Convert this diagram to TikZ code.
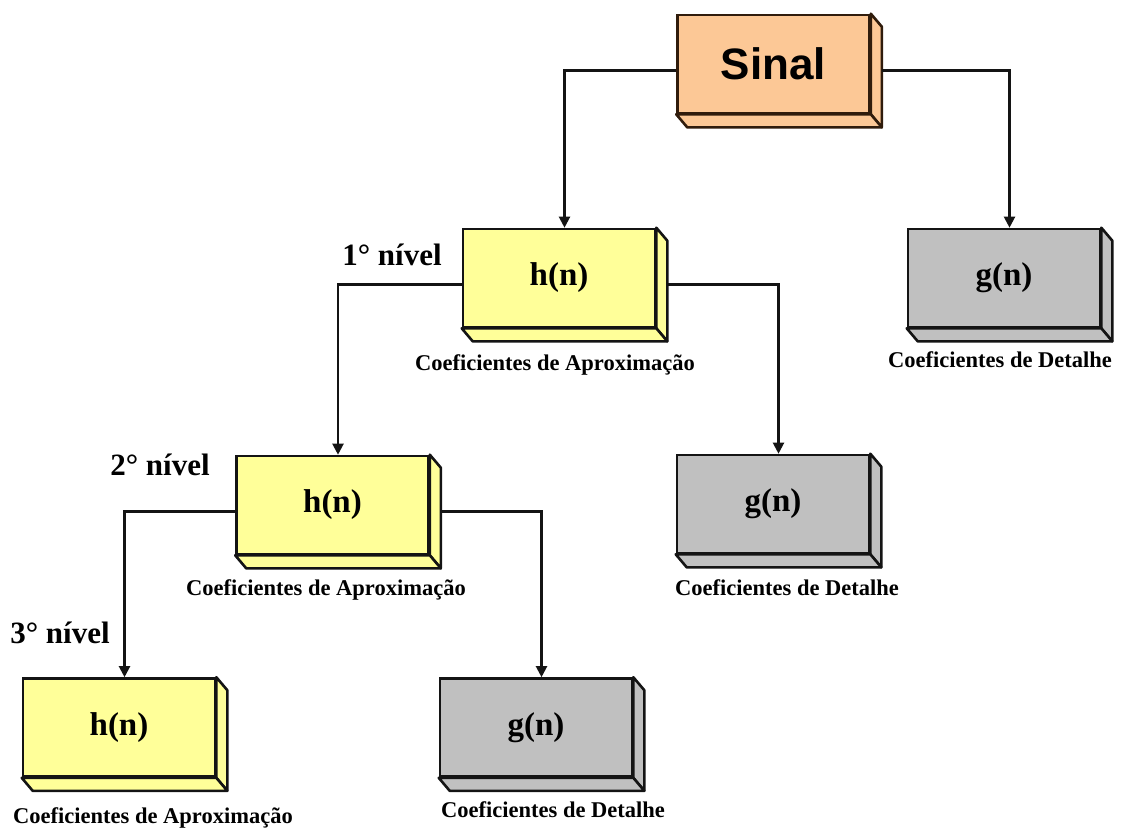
\documentclass[tikz,border=0pt]{standalone}
\usepackage{fontspec}
\setmainfont{Liberation Serif}
\newfontfamily\arialfont{Liberation Sans}
\usetikzlibrary{calc,arrows.meta}

\definecolor{sinalfill}{RGB}{252,200,150}
\definecolor{sinaledge}{RGB}{48,28,12}
\definecolor{lowfill}{RGB}{255,255,153}
\definecolor{highfill}{RGB}{192,192,192}
\definecolor{edge}{RGB}{20,20,20}

\tikzset{
  blockbox/.style={rectangle, draw=edge, line width=2.6pt, minimum width=192pt,
    minimum height=98pt, inner sep=0pt, font=\bfseries\fontsize{33}{36}\selectfont},
  lowpass/.style={blockbox, fill=lowfill},
  highpass/.style={blockbox, fill=highfill},
  signalbox/.style={blockbox, fill=sinalfill, draw=sinaledge,
    font=\arialfont\bfseries\fontsize{44}{48}\selectfont},
  coeflabel/.style={anchor=base, inner sep=0pt, font=\bfseries\fontsize{22.5}{26}\selectfont},
  levellabel/.style={anchor=base, inner sep=0pt, font=\bfseries\fontsize{31}{34}\selectfont},
  conn/.style={draw=edge, line width=2.1pt, -{Triangle[width=11pt,length=11pt]}},
  face/.style={line width=2.6pt, line join=round}
}

% side and bottom faces of a 3D block
\newcommand\blockdepth[3]{%
  \draw[face, draw=#3, fill=#2] (#1.north east) -- ++(11,13) -- ($(#1.south east)+(11,13)$)
    -- (#1.south east) -- cycle;
  \draw[face, draw=#3, fill=#2] (#1.south west) -- ++(11,13) -- ($(#1.south east)+(11,13)$)
    -- (#1.south east) -- cycle;
}

\begin{document}
\begin{tikzpicture}[x=1pt, y=-1pt]
\useasboundingbox (0,0) rectangle (1126,830);

% blocks
\node[signalbox] (sinal) at (773.5,64) {Sinal};
\node[lowpass]  (h1) at (559,278)   {h(n)};
\node[highpass] (g1) at (1004,278)  {g(n)};
\node[lowpass]  (h2) at (332.5,505) {h(n)};
\node[highpass] (g2) at (773,504)   {g(n)};
\node[lowpass]  (h3) at (119,727.5) {h(n)};
\node[highpass] (g3) at (536,727.5) {g(n)};

\blockdepth{sinal}{sinalfill}{sinaledge}
\blockdepth{h1}{lowfill}{edge}
\blockdepth{g1}{highfill}{edge}
\blockdepth{h2}{lowfill}{edge}
\blockdepth{g2}{highfill}{edge}
\blockdepth{h3}{lowfill}{edge}
\blockdepth{g3}{highfill}{edge}

% coefficient captions
\node[coeflabel] (ch1) at (555,370)  {Coeficientes de Aproximação};
\node[coeflabel] (cg1) at (1000,367) {Coeficientes de Detalhe};
\node[coeflabel] (ch2) at (326,595)  {Coeficientes de Aproximação};
\node[coeflabel] (cg2) at (787,595)  {Coeficientes de Detalhe};
\node[coeflabel] (ch3) at (153,823)  {Coeficientes de Aproximação};
\node[coeflabel] (cg3) at (553,817)  {Coeficientes de Detalhe};

% decomposition levels
\node[levellabel] (n1) at (392,265) {1° nível};
\node[levellabel] (n2) at (160,475) {2° nível};
\node[levellabel] (n3) at (60,643)  {3° nível};

% filter tree connectors
\draw[conn] ([yshift=-6.5pt]sinal.west) -| ([xshift=5.5pt]h1.north);
\draw[conn] ([xshift=11pt,yshift=-6.5pt]sinal.east) -| ([xshift=5.5pt]g1.north);
\draw[conn] ([yshift=-6.5pt]h1.west) -| ([xshift=5.5pt]h2.north);
\draw[conn] ([xshift=11pt,yshift=-6.5pt]h1.east) -| ([xshift=5.5pt]g2.north);
\draw[conn] ([yshift=-6.5pt]h2.west) -| ([xshift=5.5pt]h3.north);
\draw[conn] ([xshift=11pt,yshift=-6.5pt]h2.east) -| ([xshift=5.5pt]g3.north);
\end{tikzpicture}
\end{document}
